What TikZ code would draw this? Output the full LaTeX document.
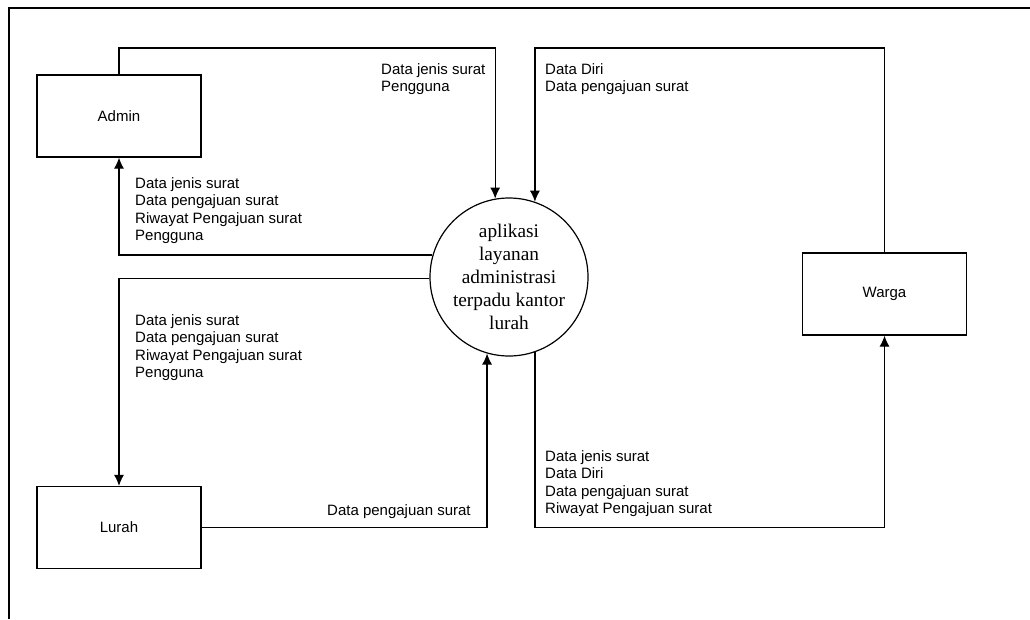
\documentclass[tikz,border=0pt]{standalone}
\usepackage{fontspec}
\setmainfont{Liberation Serif}
\newfontfamily\labelfont{Liberation Sans}
\usetikzlibrary{arrows.meta}
\begin{document}
\begin{tikzpicture}[x=1pt,y=-1pt,
  entity/.style={draw,line width=1.2pt,minimum width=164pt,minimum height=82pt,inner sep=0pt,font=\labelfont\fontsize{15}{17.6}\selectfont},
  proc/.style={draw,circle,line width=1.2pt,minimum size=158pt,inner sep=0pt,align=center,font=\fontsize{19.3}{23}\selectfont},
  flow/.style={line width=1.2pt,-{Latex[length=11pt,width=10pt]}},
  lbl/.style={anchor=base west,inner sep=0pt,align=left,font=\labelfont\fontsize{15}{17.6}\selectfont}]
\useasboundingbox (0,0) rectangle (1030,619);
\draw[line width=1.3pt] (9,619) -- (9,8) -- (1030,8);
\node[entity] (admin) at (119,116) {Admin};
\node[entity] (lurah) at (119,527.5) {Lurah};
\node[entity] (warga) at (884.5,294) {Warga};
\node[proc] (circ) at (509,277) {aplikasi\\layanan\\administrasi\\terpadu kantor\\lurah};
\coordinate (top) at (0,48);
\draw[flow] (admin.north) |- (circ.100 |- top) -- (circ.100);
\draw[flow] (warga.north) |- (circ.71 |- top) -- (circ.71);
\draw[flow] (circ.164) -| (admin.south);
\draw[flow] (circ.181) -| (lurah.north);
\draw[flow] (lurah.east) -| (circ.254);
\draw[flow] (circ.289) |- (circ.289 |- lurah.east) -| (warga.south);
\node[lbl] (l1) at (381,91.6) {Data jenis surat\\Pengguna};
\node[lbl] (l2) at (545,91.6) {Data Diri\\Data pengajuan surat};
\node[lbl] (l3) at (135,240.8) {Data jenis surat\\Data pengajuan surat\\Riwayat Pengajuan surat\\Pengguna};
\node[lbl] (l4) at (135,377.8) {Data jenis surat\\Data pengajuan surat\\Riwayat Pengajuan surat\\Pengguna};
\node[lbl] (l5) at (545,513.8) {Data jenis surat\\Data Diri\\Data pengajuan surat\\Riwayat Pengajuan surat};
\node[lbl] (l6) at (327,515) {Data pengajuan surat};
\end{tikzpicture}
\end{document}
